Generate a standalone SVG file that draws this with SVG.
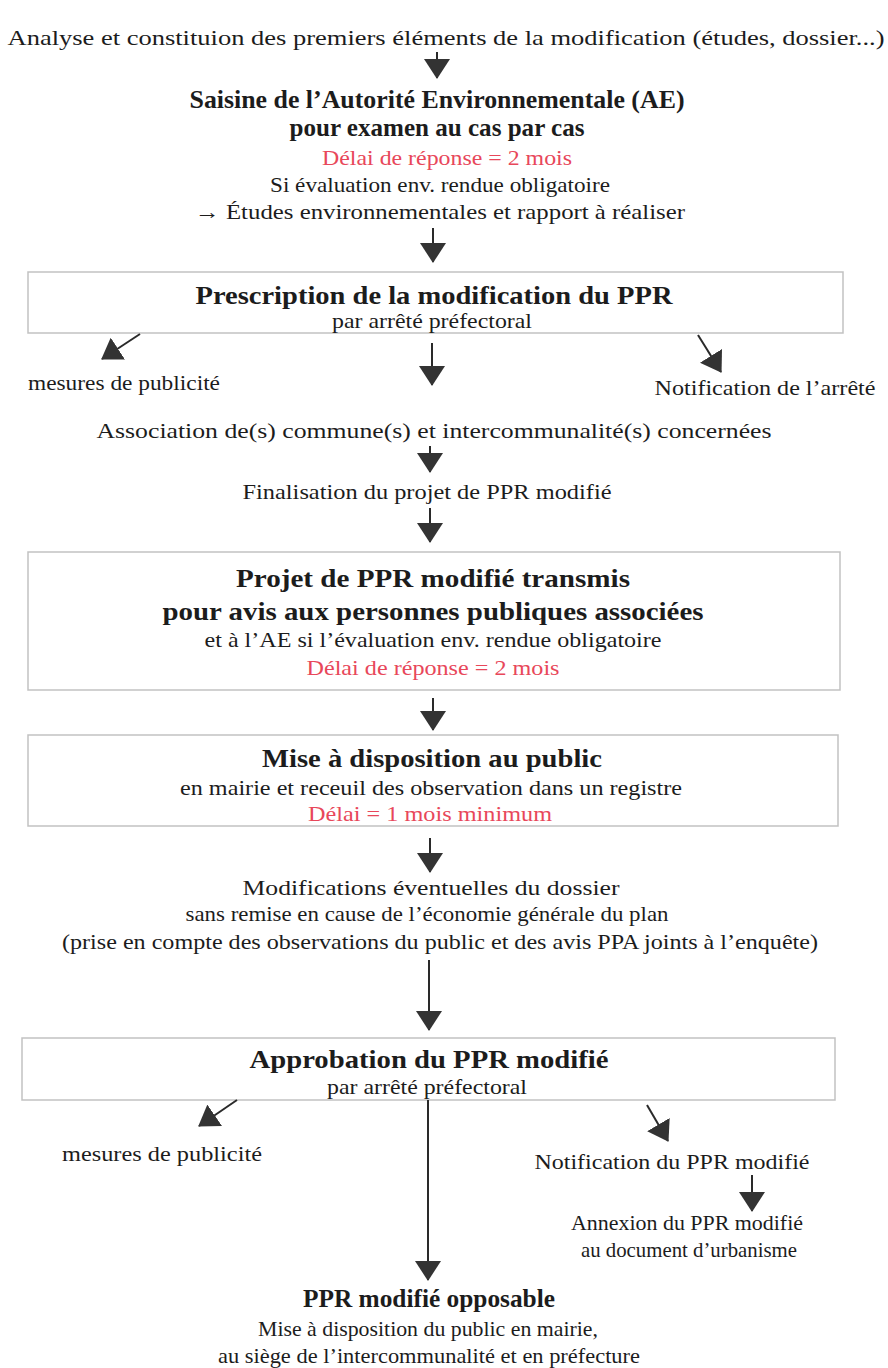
<svg xmlns="http://www.w3.org/2000/svg" width="888" height="1368" viewBox="0 0 888 1368">
<style>
text{font-family:"Liberation Serif","Times New Roman",Times,serif;fill:#1c1c1c;text-anchor:middle}
.b{font-weight:bold}
.h{font-size:25px}
.n{font-size:22px}
.r{fill:#e8475a}
.box{fill:#fff;stroke:#c2c2c2;stroke-width:1.5}
.ln{stroke:#2a2a2a;stroke-width:2;fill:none}
</style>
<defs>
<marker id="ah" markerUnits="userSpaceOnUse" markerWidth="20" markerHeight="26" viewBox="0 0 20 26" refX="19" refY="13" orient="auto">
<path d="M0,0 L20,13 L0,26 z" fill="#333"/>
</marker>
</defs>
<rect width="888" height="1368" fill="#fff"/>

<g id="start">
<text class="n" x="446" y="45" textLength="877" lengthAdjust="spacingAndGlyphs">Analyse et constituion des premiers éléments de la modification (études, dossier...)</text>
</g>

<g id="saisine">
<text class="h b" x="437" y="108" textLength="495" lengthAdjust="spacingAndGlyphs">Saisine de l’Autorité Environnementale (AE)</text>
<text class="h b" x="437" y="136" textLength="295" lengthAdjust="spacingAndGlyphs">pour examen au cas par cas</text>
<text class="n r" x="447" y="165" textLength="250" lengthAdjust="spacingAndGlyphs">Délai de réponse = 2 mois</text>
<text class="n" x="440" y="192" textLength="340" lengthAdjust="spacingAndGlyphs">Si évaluation env. rendue obligatoire</text>
<text class="n" x="440" y="219" textLength="490" lengthAdjust="spacingAndGlyphs">→ Études environnementales et rapport à réaliser</text>
</g>

<g id="prescription">
<rect class="box" x="28" y="272" width="815" height="61"/>
<text class="h b" x="434" y="304" textLength="477" lengthAdjust="spacingAndGlyphs">Prescription de la modification du PPR</text>
<text class="n" x="432" y="328" textLength="200" lengthAdjust="spacingAndGlyphs">par arrêté préfectoral</text>
</g>

<g id="publicite1">
<text class="n" x="124" y="390" textLength="192" lengthAdjust="spacingAndGlyphs">mesures de publicité</text>
</g>
<g id="notif1">
<text class="n" x="765" y="395" textLength="221" lengthAdjust="spacingAndGlyphs">Notification de l’arrêté</text>
</g>

<g id="association">
<text class="n" x="434" y="438" textLength="675" lengthAdjust="spacingAndGlyphs">Association de(s) commune(s) et intercommunalité(s) concernées</text>
</g>

<g id="finalisation">
<text class="n" x="427" y="499" textLength="369" lengthAdjust="spacingAndGlyphs">Finalisation du projet de PPR modifié</text>
</g>

<g id="projet">
<rect class="box" x="28" y="552" width="812" height="138"/>
<text class="h b" x="433" y="587" textLength="394" lengthAdjust="spacingAndGlyphs">Projet de PPR modifié transmis</text>
<text class="h b" x="433" y="620" textLength="541" lengthAdjust="spacingAndGlyphs">pour avis aux personnes publiques associées</text>
<text class="n" x="433" y="647" textLength="457" lengthAdjust="spacingAndGlyphs">et à l’AE si l’évaluation env. rendue obligatoire</text>
<text class="n r" x="433" y="675" textLength="253" lengthAdjust="spacingAndGlyphs">Délai de réponse = 2 mois</text>
</g>

<g id="miseadispo">
<rect class="box" x="28" y="735" width="810" height="91"/>
<text class="h b" x="432" y="767" textLength="340" lengthAdjust="spacingAndGlyphs">Mise à disposition au public</text>
<text class="n" x="431" y="795" textLength="502" lengthAdjust="spacingAndGlyphs">en mairie et receuil des observation dans un registre</text>
<text class="n r" x="430" y="821" textLength="244" lengthAdjust="spacingAndGlyphs">Délai = 1 mois minimum</text>
</g>

<g id="modifications">
<text class="n" x="431" y="895" textLength="377" lengthAdjust="spacingAndGlyphs">Modifications éventuelles du dossier</text>
<text class="n" x="427" y="921" textLength="483" lengthAdjust="spacingAndGlyphs">sans remise en cause de l’économie générale du plan</text>
<text class="n" x="440" y="949" textLength="756" lengthAdjust="spacingAndGlyphs">(prise en compte des observations du public et des avis PPA joints à l’enquête)</text>
</g>

<g id="approbation">
<rect class="box" x="22" y="1038" width="813" height="62"/>
<text class="h b" x="429" y="1068" textLength="359" lengthAdjust="spacingAndGlyphs">Approbation du PPR modifié</text>
<text class="n" x="427" y="1094" textLength="200" lengthAdjust="spacingAndGlyphs">par arrêté préfectoral</text>
</g>

<g id="publicite2">
<text class="n" x="162" y="1161" textLength="200" lengthAdjust="spacingAndGlyphs">mesures de publicité</text>
</g>
<g id="notif2">
<text class="n" x="672" y="1169" textLength="275" lengthAdjust="spacingAndGlyphs">Notification du PPR modifié</text>
</g>
<g id="annexion">
<text class="n" x="687" y="1230" textLength="232" lengthAdjust="spacingAndGlyphs">Annexion du PPR modifié</text>
<text class="n" x="689" y="1257" textLength="216" lengthAdjust="spacingAndGlyphs">au document d’urbanisme</text>
</g>

<g id="opposable">
<text class="h b" x="429" y="1307" textLength="252" lengthAdjust="spacingAndGlyphs">PPR modifié opposable</text>
<text class="n" x="428" y="1336" textLength="340" lengthAdjust="spacingAndGlyphs">Mise à disposition du public en mairie,</text>
<text class="n" x="429" y="1363" textLength="422" lengthAdjust="spacingAndGlyphs">au siège de l’intercommunalité et en préfecture</text>
</g>

<g id="connectors">
<line class="ln" x1="437" y1="52" x2="437" y2="78" marker-end="url(#ah)"/>
<line class="ln" x1="433" y1="228" x2="433" y2="262" marker-end="url(#ah)"/>
<line class="ln" x1="140" y1="334" x2="102" y2="359" marker-end="url(#ah)"/>
<line class="ln" x1="698" y1="335" x2="721" y2="372" marker-end="url(#ah)"/>
<line class="ln" x1="432" y1="343" x2="432" y2="385" marker-end="url(#ah)"/>
<line class="ln" x1="430" y1="446" x2="430" y2="472" marker-end="url(#ah)"/>
<line class="ln" x1="430" y1="508" x2="430" y2="542" marker-end="url(#ah)"/>
<line class="ln" x1="433" y1="698" x2="433" y2="730" marker-end="url(#ah)"/>
<line class="ln" x1="430" y1="838" x2="430" y2="872" marker-end="url(#ah)"/>
<line class="ln" x1="429" y1="960" x2="429" y2="1030" marker-end="url(#ah)"/>
<line class="ln" x1="237" y1="1100" x2="199" y2="1126" marker-end="url(#ah)"/>
<line class="ln" x1="647" y1="1105" x2="668" y2="1141" marker-end="url(#ah)"/>
<line class="ln" x1="428" y1="1100" x2="428" y2="1280" marker-end="url(#ah)"/>
<line class="ln" x1="752" y1="1175" x2="752" y2="1211" marker-end="url(#ah)"/>
</g>
</svg>
